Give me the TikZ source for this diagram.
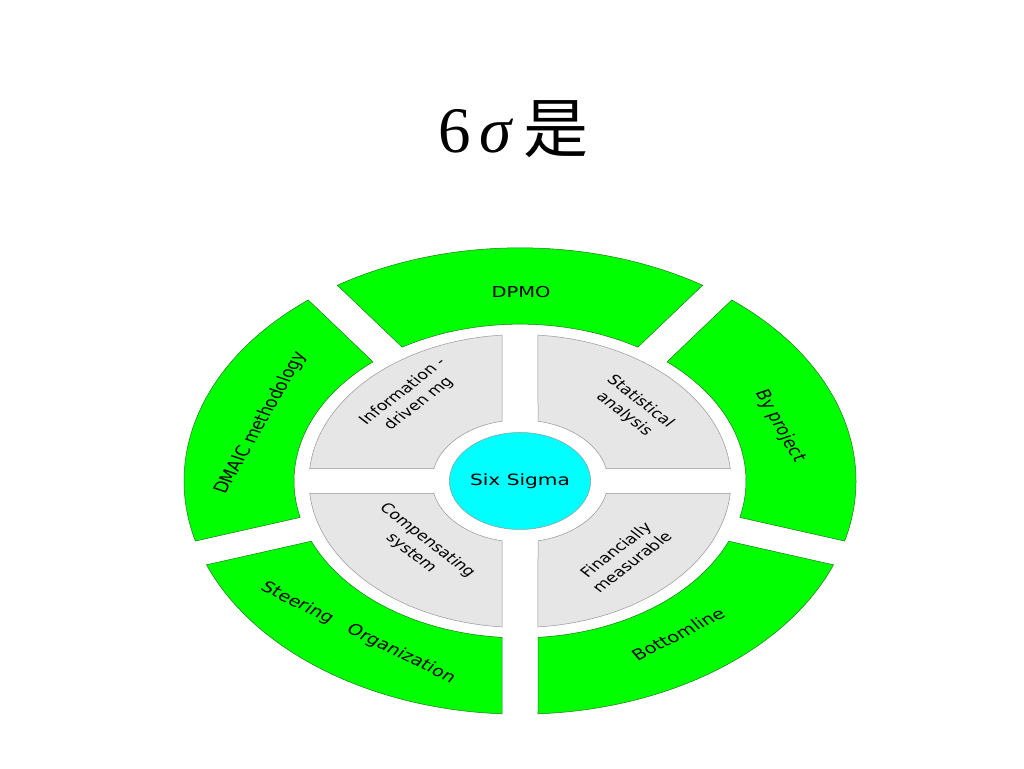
\documentclass[tikz,border=0pt]{standalone}
\usepackage{fontspec}
\usepackage{graphicx}
\usetikzlibrary{shapes.geometric}
\newfontfamily\lblfont{DejaVu Sans}
\newfontfamily\cjkfont{Noto Sans CJK SC}
\newfontfamily\titlefont{Liberation Serif}
\definecolor{segGreen}{RGB}{0,255,0}
\definecolor{segEdge}{RGB}{30,120,30}
\definecolor{quadGray}{RGB}{230,230,230}
\definecolor{quadEdge}{RGB}{150,150,150}
\definecolor{hubCyan}{RGB}{0,255,255}
\newcommand{\sttext}[2]{\scalebox{1.3}[1]{\rotatebox{#1}{#2}}}
\newcommand{\greenseg}[2]{%
  \draw[greenpart] ({#1+3.07}:336) arc[start angle={#1+3.07}, end angle={#2-3.07}, radius=336]
    -- ({#2-4.57}:226) arc[start angle={#2-4.57}, end angle={#1+4.57}, radius=226] -- cycle;}
\newcommand{\grayseg}[2]{%
  \draw[graypart] ({#1+4.89}:211) arc[start angle={#1+4.89}, end angle={#2-4.89}, radius=211]
    -- ({#2-11.8}:88) arc[start angle={#2-11.8}, end angle={#1+11.8}, radius=88] -- cycle;}
\begin{document}
\begin{tikzpicture}[x=1pt,y=1pt,
  greenpart/.style={fill=segGreen, draw=segEdge, line width=0.5pt},
  graypart/.style={fill=quadGray, draw=quadEdge, line width=0.5pt},
  outerlbl/.style={inner sep=0pt, font=\lblfont\fontsize{15}{18}\selectfont, text=black},
  innerlbl/.style={inner sep=0pt, font=\lblfont\fontsize{13.5}{17.5}\selectfont, text=black},
  hub/.style={ellipse, fill=hubCyan, draw=quadEdge, line width=0.5pt, minimum width=140pt, minimum height=97pt, inner sep=0pt, font=\lblfont\fontsize{15.5}{18}\selectfont}]
\useasboundingbox[fill=white] (0,0) rectangle (1024,768);
% title
\node[anchor=base, inner sep=0pt, font=\titlefont\fontsize{65}{75}\selectfont] (title) at (513.5,615)
  {6\hspace{9pt}{\itshape σ}\hspace{12pt}{\cjkfont 是}};
% diagram shapes
\begin{scope}[shift={(520,287)}, yscale=0.694]
  \greenseg{-18}{54}
  \greenseg{54}{126}
  \greenseg{126}{198}
  \greenseg{198}{270}
  \greenseg{270}{342}
  \grayseg{0}{90}
  \grayseg{90}{180}
  \grayseg{180}{270}
  \grayseg{270}{360}
\end{scope}
\node[hub] (hubnode) at (520,287) {\scalebox{1.3}[1]{Six Sigma}};
% outer labels
\node[outerlbl] (dpmo) at (521,476) {\sttext{0}{DPMO}};
\node[outerlbl] (dmaic) at (261,345) {\sttext{66}{DMAIC methodology}};
\node[outerlbl] (byproj) at (780,342) {\sttext{-66}{By project}};
\node[outerlbl] (bottom) at (678,134) {\sttext{33.5}{Bottomline}};
\node[outerlbl] (steer) at (358,135) {\sttext{-32.4}{Steering\hspace{1em}Organization}};
% inner labels
\node[innerlbl] (info) at (411,370) {\sttext{45}{\begin{tabular}{@{}c@{}}Information -\\driven mg\end{tabular}}};
\node[innerlbl] (stat) at (632,360) {\sttext{-45}{\begin{tabular}{@{}c@{}}Statistical\\analysis\end{tabular}}};
\node[innerlbl] (comp) at (419,221) {\sttext{-45}{\begin{tabular}{@{}c@{}}Compensating\\system\end{tabular}}};
\node[innerlbl] (fin) at (625,211) {\sttext{45}{\begin{tabular}{@{}c@{}}Financially\\measurable\end{tabular}}};
\end{tikzpicture}
\end{document}
